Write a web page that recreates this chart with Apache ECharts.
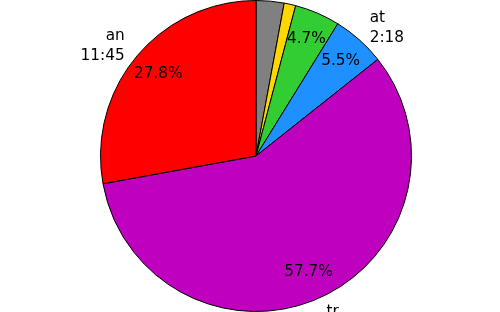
<!DOCTYPE html>
<html>
<head>
<meta charset="utf-8">
<script src="https://cdn.jsdelivr.net/npm/echarts@6/dist/echarts.min.js"></script>
<style>
html,body{margin:0;padding:0;background:#fff;}
#chart{width:500px;height:312px;}
</style>
</head>
<body>
<div id="chart"></div>
<script>
// Slices in clockwise order starting from the top
var sliceNames = ['gray', 'gold', 'green', 'blue', 'magenta', 'red'];
var sliceValues = [2.9, 1.2, 4.7, 5.5, 57.7, 27.8];
var sliceColors = ['#808080', '#FFD700', '#32CD32', '#1E90FF', '#BF00BF', '#FF0000'];
var outerLabels = ['', '', '', 'at\n2:18', 'tr', 'an\n11:45'];
var pctLabels = ['', '', '4.7%', '5.5%', '57.7%', '27.8%'];

var FONT = 'DejaVu Sans';
var FS = 15.3;
var CENTER = [256, 156];
var R = 155.5;

var chart = echarts.init(document.getElementById('chart'), null, {renderer: 'canvas'});

function makeData(withColor) {
  return sliceValues.map(function (v, i) {
    return {
      name: sliceNames[i],
      value: v,
      itemStyle: withColor
        ? {color: sliceColors[i], borderColor: '#000', borderWidth: 1}
        : {color: 'rgba(0,0,0,0)', borderWidth: 0}
    };
  });
}

chart.setOption({
  animation: false,
  backgroundColor: '#ffffff',
  series: [
    {
      type: 'pie',
      silent: true,
      center: CENTER,
      radius: [0, R],
      startAngle: 90,
      clockwise: true,
      avoidLabelOverlap: false,
      data: makeData(true),
      label: {
        show: true,
        position: 'outside',
        formatter: function (p) { return outerLabels[p.dataIndex]; },
        fontFamily: FONT,
        fontSize: FS,
        color: '#000',
        lineHeight: 20,
        distanceToLabelLine: 0
      },
      labelLine: {show: false, length: R * 0.1, length2: 0},
      emphasis: {disabled: true}
    },
    {
      type: 'pie',
      silent: true,
      center: CENTER,
      radius: [R * 0.6, R],
      startAngle: 90,
      clockwise: true,
      avoidLabelOverlap: false,
      data: makeData(false),
      label: {
        show: true,
        position: 'inside',
        formatter: function (p) { return pctLabels[p.dataIndex]; },
        fontFamily: FONT,
        fontSize: FS,
        color: '#000'
      },
      labelLine: {show: false},
      emphasis: {disabled: true}
    }
  ]
});
</script>
</body>
</html>
